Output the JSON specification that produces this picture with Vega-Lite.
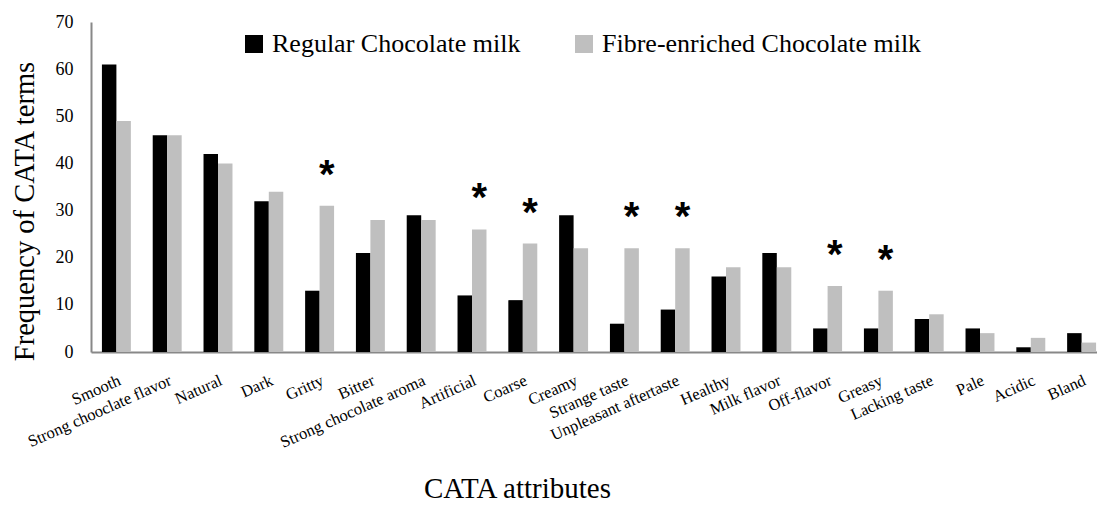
{
  "$schema": "https://vega.github.io/schema/vega-lite/v6.json",
  "autosize": "none",
  "padding": {"left": 91, "top": 22, "right": 0, "bottom": 154},
  "width": 1016,
  "height": 330,
  "background": "white",
  "config": {
    "view": {"stroke": null},
    "font": "Liberation Serif"
  },
  "data": {
    "values": [
      {"attr": "Smooth", "series": "Regular Chocolate milk", "value": 61, "sig": false},
      {"attr": "Smooth", "series": "Fibre-enriched Chocolate milk", "value": 49, "sig": false},
      {"attr": "Strong chooclate flavor", "series": "Regular Chocolate milk", "value": 46, "sig": false},
      {"attr": "Strong chooclate flavor", "series": "Fibre-enriched Chocolate milk", "value": 46, "sig": false},
      {"attr": "Natural", "series": "Regular Chocolate milk", "value": 42, "sig": false},
      {"attr": "Natural", "series": "Fibre-enriched Chocolate milk", "value": 40, "sig": false},
      {"attr": "Dark", "series": "Regular Chocolate milk", "value": 32, "sig": false},
      {"attr": "Dark", "series": "Fibre-enriched Chocolate milk", "value": 34, "sig": false},
      {"attr": "Gritty", "series": "Regular Chocolate milk", "value": 13, "sig": false},
      {"attr": "Gritty", "series": "Fibre-enriched Chocolate milk", "value": 31, "sig": true},
      {"attr": "Bitter", "series": "Regular Chocolate milk", "value": 21, "sig": false},
      {"attr": "Bitter", "series": "Fibre-enriched Chocolate milk", "value": 28, "sig": false},
      {"attr": "Strong chocolate aroma", "series": "Regular Chocolate milk", "value": 29, "sig": false},
      {"attr": "Strong chocolate aroma", "series": "Fibre-enriched Chocolate milk", "value": 28, "sig": false},
      {"attr": "Artificial", "series": "Regular Chocolate milk", "value": 12, "sig": false},
      {"attr": "Artificial", "series": "Fibre-enriched Chocolate milk", "value": 26, "sig": true},
      {"attr": "Coarse", "series": "Regular Chocolate milk", "value": 11, "sig": false},
      {"attr": "Coarse", "series": "Fibre-enriched Chocolate milk", "value": 23, "sig": true},
      {"attr": "Creamy", "series": "Regular Chocolate milk", "value": 29, "sig": false},
      {"attr": "Creamy", "series": "Fibre-enriched Chocolate milk", "value": 22, "sig": false},
      {"attr": "Strange taste", "series": "Regular Chocolate milk", "value": 6, "sig": false},
      {"attr": "Strange taste", "series": "Fibre-enriched Chocolate milk", "value": 22, "sig": true},
      {"attr": "Unpleasant aftertaste", "series": "Regular Chocolate milk", "value": 9, "sig": false},
      {"attr": "Unpleasant aftertaste", "series": "Fibre-enriched Chocolate milk", "value": 22, "sig": true},
      {"attr": "Healthy", "series": "Regular Chocolate milk", "value": 16, "sig": false},
      {"attr": "Healthy", "series": "Fibre-enriched Chocolate milk", "value": 18, "sig": false},
      {"attr": "Milk flavor", "series": "Regular Chocolate milk", "value": 21, "sig": false},
      {"attr": "Milk flavor", "series": "Fibre-enriched Chocolate milk", "value": 18, "sig": false},
      {"attr": "Off-flavor", "series": "Regular Chocolate milk", "value": 5, "sig": false},
      {"attr": "Off-flavor", "series": "Fibre-enriched Chocolate milk", "value": 14, "sig": true},
      {"attr": "Greasy", "series": "Regular Chocolate milk", "value": 5, "sig": false},
      {"attr": "Greasy", "series": "Fibre-enriched Chocolate milk", "value": 13, "sig": true},
      {"attr": "Lacking taste", "series": "Regular Chocolate milk", "value": 7, "sig": false},
      {"attr": "Lacking taste", "series": "Fibre-enriched Chocolate milk", "value": 8, "sig": false},
      {"attr": "Pale", "series": "Regular Chocolate milk", "value": 5, "sig": false},
      {"attr": "Pale", "series": "Fibre-enriched Chocolate milk", "value": 4, "sig": false},
      {"attr": "Acidic", "series": "Regular Chocolate milk", "value": 1, "sig": false},
      {"attr": "Acidic", "series": "Fibre-enriched Chocolate milk", "value": 3, "sig": false},
      {"attr": "Bland", "series": "Regular Chocolate milk", "value": 4, "sig": false},
      {"attr": "Bland", "series": "Fibre-enriched Chocolate milk", "value": 2, "sig": false}
    ]
  },
  "encoding": {
    "x": {
      "field": "attr",
      "type": "nominal",
      "sort": null,
      "scale": {"paddingInner": 0.43, "paddingOuter": 0.215},
      "axis": {
        "title": "CATA attributes",
        "titleFont": "Liberation Serif",
        "titleFontSize": 29,
        "titleFontWeight": "normal",
        "titleColor": "black",
        "titleX": 426,
        "titleY": 145,
        "titleAlign": "center",
        "titleBaseline": "alphabetic",
        "labelAngle": -24,
        "labelAlign": "right",
        "labelBaseline": "top",
        "labelFont": "Liberation Serif",
        "labelFontSize": 16.5,
        "labelColor": "black",
        "labelPadding": 20,
        "labelOverlap": false,
        "labelLimit": 300,
        "ticks": false,
        "domainColor": "#888888",
        "domainWidth": 2
      }
    },
    "xOffset": {
      "field": "series",
      "type": "nominal",
      "scale": {"domain": ["Regular Chocolate milk", "Fibre-enriched Chocolate milk"], "paddingInner": 0, "paddingOuter": 0}
    },
    "y": {
      "field": "value",
      "type": "quantitative",
      "scale": {"domain": [0, 70], "nice": false},
      "axis": {
        "title": "Frequency of CATA terms",
        "titleFont": "Liberation Serif",
        "titleFontSize": 28.5,
        "titleFontWeight": "normal",
        "titleColor": "black",
        "titleAngle": -90,
        "titleX": -58,
        "titleY": 189,
        "titleAlign": "center",
        "titleBaseline": "alphabetic",
        "values": [0, 10, 20, 30, 40, 50, 60, 70],
        "grid": false,
        "ticks": false,
        "labelFont": "Liberation Serif",
        "labelFontSize": 18,
        "labelColor": "black",
        "labelPadding": 18,
        "domainColor": "#888888",
        "domainWidth": 2
      }
    }
  },
  "layer": [
    {
      "mark": {"type": "bar"},
      "encoding": {
        "color": {
          "field": "series",
          "type": "nominal",
          "scale": {"domain": ["Regular Chocolate milk", "Fibre-enriched Chocolate milk"], "range": ["#000000", "#bfbfbf"]},
          "legend": {
            "title": null,
            "orient": "none",
            "direction": "horizontal",
            "legendX": 150,
            "legendY": 9,
            "symbolType": "square",
            "symbolSize": 324,
            "symbolStrokeWidth": 0,
            "labelFont": "Liberation Serif",
            "labelFontSize": 26,
            "labelColor": "black",
            "labelLimit": 400,
            "columnPadding": 50,
            "labelOffset": 5
          }
        }
      }
    },
    {
      "transform": [{"filter": "datum.sig"}],
      "mark": {"type": "text", "text": "*", "fontSize": 40, "font": "Liberation Sans", "fontWeight": "bold", "baseline": "middle", "dy": -30, "color": "black"}
    }
  ]
}
